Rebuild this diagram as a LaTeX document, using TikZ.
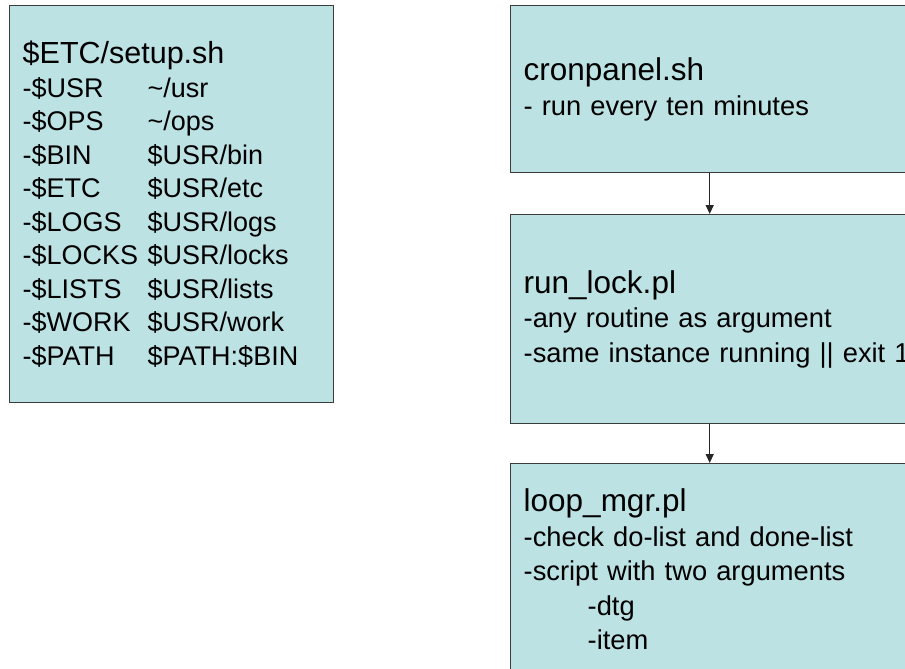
\documentclass[tikz,border=0pt]{standalone}
\usepackage{fontspec}
\setmainfont{Liberation Sans}
\usetikzlibrary{arrows.meta}
\definecolor{boxfill}{RGB}{188,226,228}
\definecolor{boxline}{RGB}{60,60,60}
\newcommand{\lefttitle}[1]{{\fontsize{30.5}{33.5}\selectfont #1}}
\newcommand{\righttitle}[1]{{\fontsize{31.5}{34.5}\selectfont #1}}
\begin{document}
\begin{tikzpicture}[x=1pt,y=-1pt,
  panel/.style={draw=boxline, line width=1.4pt, fill=boxfill, rectangle, anchor=north west, align=left, inner xsep=13pt, inner ysep=0pt},
  leftpanel/.style={panel, minimum width=324pt, minimum height=397pt, text width=298pt, font=\fontsize{27}{33.5}\selectfont},
  rightpanel/.style={panel, minimum width=398pt, text width=372pt, font=\fontsize{27.3}{34.5}\selectfont},
  flow/.style={-{Triangle[length=9pt,width=8pt]}, line width=1.2pt, draw=black!85}]
\useasboundingbox (0,0) rectangle (905,669);
\node[leftpanel] (setup) at (9,5) {\lefttitle{\$ETC/setup.sh}\\
\makebox[125pt][l]{-\$USR}\textasciitilde/usr\\
\makebox[125pt][l]{-\$OPS}\textasciitilde/ops\\
\makebox[125pt][l]{-\$BIN}\$USR/bin\\
\makebox[125pt][l]{-\$ETC}\$USR/etc\\
\makebox[125pt][l]{-\$LOGS}\$USR/logs\\
\makebox[125pt][l]{-\$LOCKS}\$USR/locks\\
\makebox[125pt][l]{-\$LISTS}\$USR/lists\\
\makebox[125pt][l]{-\$WORK}\$USR/work\\
\makebox[125pt][l]{-\$PATH}\$PATH:\$BIN};
\node[rightpanel, minimum height=167pt] (cron) at (510,5) {\righttitle{cronpanel.sh}\\- run every ten minutes};
\node[rightpanel, minimum height=209pt] (lock) at (510,214) {\righttitle{run\_lock.pl}\\-any routine as argument\\\makebox[0pt][l]{-same instance running || exit 1}};
\node[rightpanel, minimum height=212pt] (loop) at (510,463) {\righttitle{loop\_mgr.pl}\\-check do-list and done-list\\-script with two arguments\\\hspace*{64pt}-dtg\\\hspace*{64pt}-item};
\draw[flow] (cron.south) -- (lock.north);
\draw[flow] (lock.south) -- (loop.north);
\end{tikzpicture}
\end{document}
